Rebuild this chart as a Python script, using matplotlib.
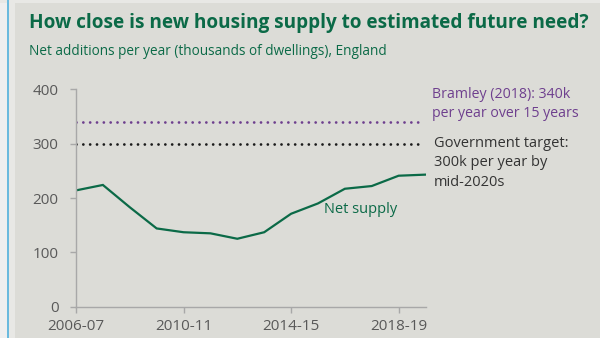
import matplotlib.pyplot as plt
import matplotlib.patches as patches
from matplotlib.lines import Line2D

plt.rcParams['font.family'] = ['Open Sans', 'DejaVu Sans']

# Net additions per year, England (thousands of dwellings)
years = ['2006-07', '2007-08', '2008-09', '2009-10', '2010-11', '2011-12', '2012-13',
         '2013-14', '2014-15', '2015-16', '2016-17', '2017-18', '2018-19', '2019-20']
net_supply = [214, 224, 183, 144, 137, 135, 125, 137, 171, 190, 217, 222, 241, 243]
bramley = 340
gov_target = 300
tick_years = ['2006-07', '2010-11', '2014-15', '2018-19']

bramley_label = ['Bramley (2018): 340k', 'per year over 15 years']
target_label = ['Government target:', '300k per year by', 'mid-2020s']

bg = '#dcdcd7'
green = '#0b6a47'
purple = '#6e3f8e'
grey_txt = '#595959'

fig = plt.figure(figsize=(6, 3.38), dpi=100)
fig.patch.set_facecolor(bg)

# left border strip like the source page
fig.add_artist(patches.Rectangle((0, 0), 7 / 600, 1, transform=fig.transFigure,
                                 facecolor='#efefef', edgecolor='none'))
fig.add_artist(patches.Rectangle((9 / 600, 0), 6 / 600, 1, transform=fig.transFigure,
                                 facecolor='#e8e8e5', edgecolor='none'))
fig.add_artist(patches.Rectangle((0, 1 - 3 / 338), 1, 3 / 338, transform=fig.transFigure,
                                 facecolor='#e8e8e5', edgecolor='none'))
fig.add_artist(Line2D([8 / 600, 8 / 600], [0, 1], transform=fig.transFigure,
                      color='#55b4e0', lw=1.2))

ax = fig.add_axes([76 / 600, 31.3 / 338, 349.5 / 600, 217.4 / 338])
ax.set_facecolor(bg)

x = list(range(len(years)))
ax.plot(x, net_supply, color=green, lw=1.6, solid_joinstyle='miter')
dots = (0, (0.01, 2.45))
ax.hlines(bramley, 0, 12.85, colors=purple, lw=2, linestyles=dots, capstyle='round')
ax.hlines(gov_target, 0, 12.85, colors='#1a1a1a', lw=2, linestyles=dots, capstyle='round')

ax.set_xlim(0, len(years) - 1)
ax.set_ylim(0, 400)
ax.set_yticks([0, 100, 200, 300, 400])
ax.set_xticks([years.index(t) for t in tick_years])
ax.set_xticklabels(tick_years)

for s in ['top', 'right']:
    ax.spines[s].set_visible(False)
for s in ['left', 'bottom']:
    ax.spines[s].set_color('#a8a8a8')
    ax.spines[s].set_linewidth(1)
ax.tick_params(colors='#a8a8a8', labelcolor=grey_txt, labelsize=11, length=4.5, width=1)
ax.tick_params(axis='y', pad=8)
ax.tick_params(axis='x', pad=4)

fig.text(29 / 600, 1 - 28 / 338, 'How close is new housing supply to estimated future need?',
         fontsize=13.7, fontweight='bold', color=green, va='baseline')
fig.text(29 / 600, 1 - 55 / 338, 'Net additions per year (thousands of dwellings), England',
         fontsize=9.8, color=green, va='baseline')

for i, line in enumerate(bramley_label):
    fig.text(432 / 600, 1 - (95 + 19 * i) / 338, line, fontsize=10.2, color=purple,
             va='center')
for i, line in enumerate(target_label):
    fig.text(434 / 600, 1 - (143 + 20 * i) / 338, line, fontsize=10.5, color='#333333',
             va='center')
fig.text(324 / 600, 1 - 209 / 338, 'Net supply', fontsize=10.5, color=green, va='center')

fig.savefig('out.png', dpi=100, facecolor=bg)
